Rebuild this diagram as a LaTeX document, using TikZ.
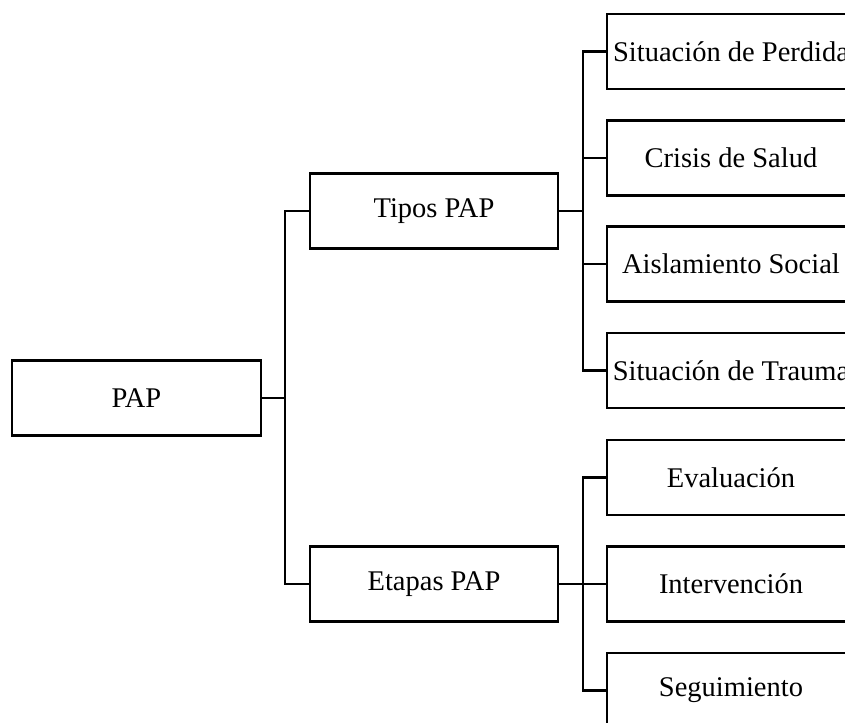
\documentclass[tikz,border=0pt]{standalone}
\usepackage{fontspec}
\setmainfont{Liberation Serif}
\begin{document}
\begin{tikzpicture}[x=1pt,y=-1pt,
  box/.style={draw, line width=2.5pt, minimum height=75pt, inner sep=0pt, font=\fontsize{28.5}{34}\selectfont},
  leftbox/.style={box, minimum width=249pt},
  midbox/.style={box, minimum width=248pt},
  rightbox/.style={box, minimum width=248pt},
  link/.style={line width=2.5pt}]
\useasboundingbox (0,0) rectangle (845,722);
\clip (0,0) rectangle (845,722);
\node[leftbox] (pap) at (136.5,398) {PAP};
\node[midbox] (tipos) at (434,211) {Tipos PAP};
\node[midbox] (etapas) at (434,584) {Etapas PAP};
\node[rightbox] (s1) at (731,51.5) {Situación de Perdida};
\node[rightbox] (s2) at (731,157.8) {Crisis de Salud};
\node[rightbox] (s3) at (731,264.2) {Aislamiento Social};
\node[rightbox] (s4) at (731,370.5) {Situación de Trauma};
\node[rightbox] (e1) at (731,477.5) {Evaluación};
\node[rightbox] (e2) at (731,584) {Intervención};
\node[rightbox] (e3) at (731,690.5) {Seguimiento};
\coordinate (j0) at (285,398);
\coordinate (j1) at (583,211);
\coordinate (j2) at (583,584);
\draw[link] (pap.east) -- (j0);
\draw[link] (tipos.west) -| (j0) |- (etapas.west);
\draw[link] (tipos.east) -- (j1);
\draw[link] (s1.west) -| (j1) |- (s4.west);
\draw[link] (s2.west) -- (s2.west -| j1);
\draw[link] (s3.west) -- (s3.west -| j1);
\draw[link] (etapas.east) -- (j2);
\draw[link] (e1.west) -| (j2) |- (e3.west);
\draw[link] (e2.west) -- (j2);
\end{tikzpicture}
\end{document}
